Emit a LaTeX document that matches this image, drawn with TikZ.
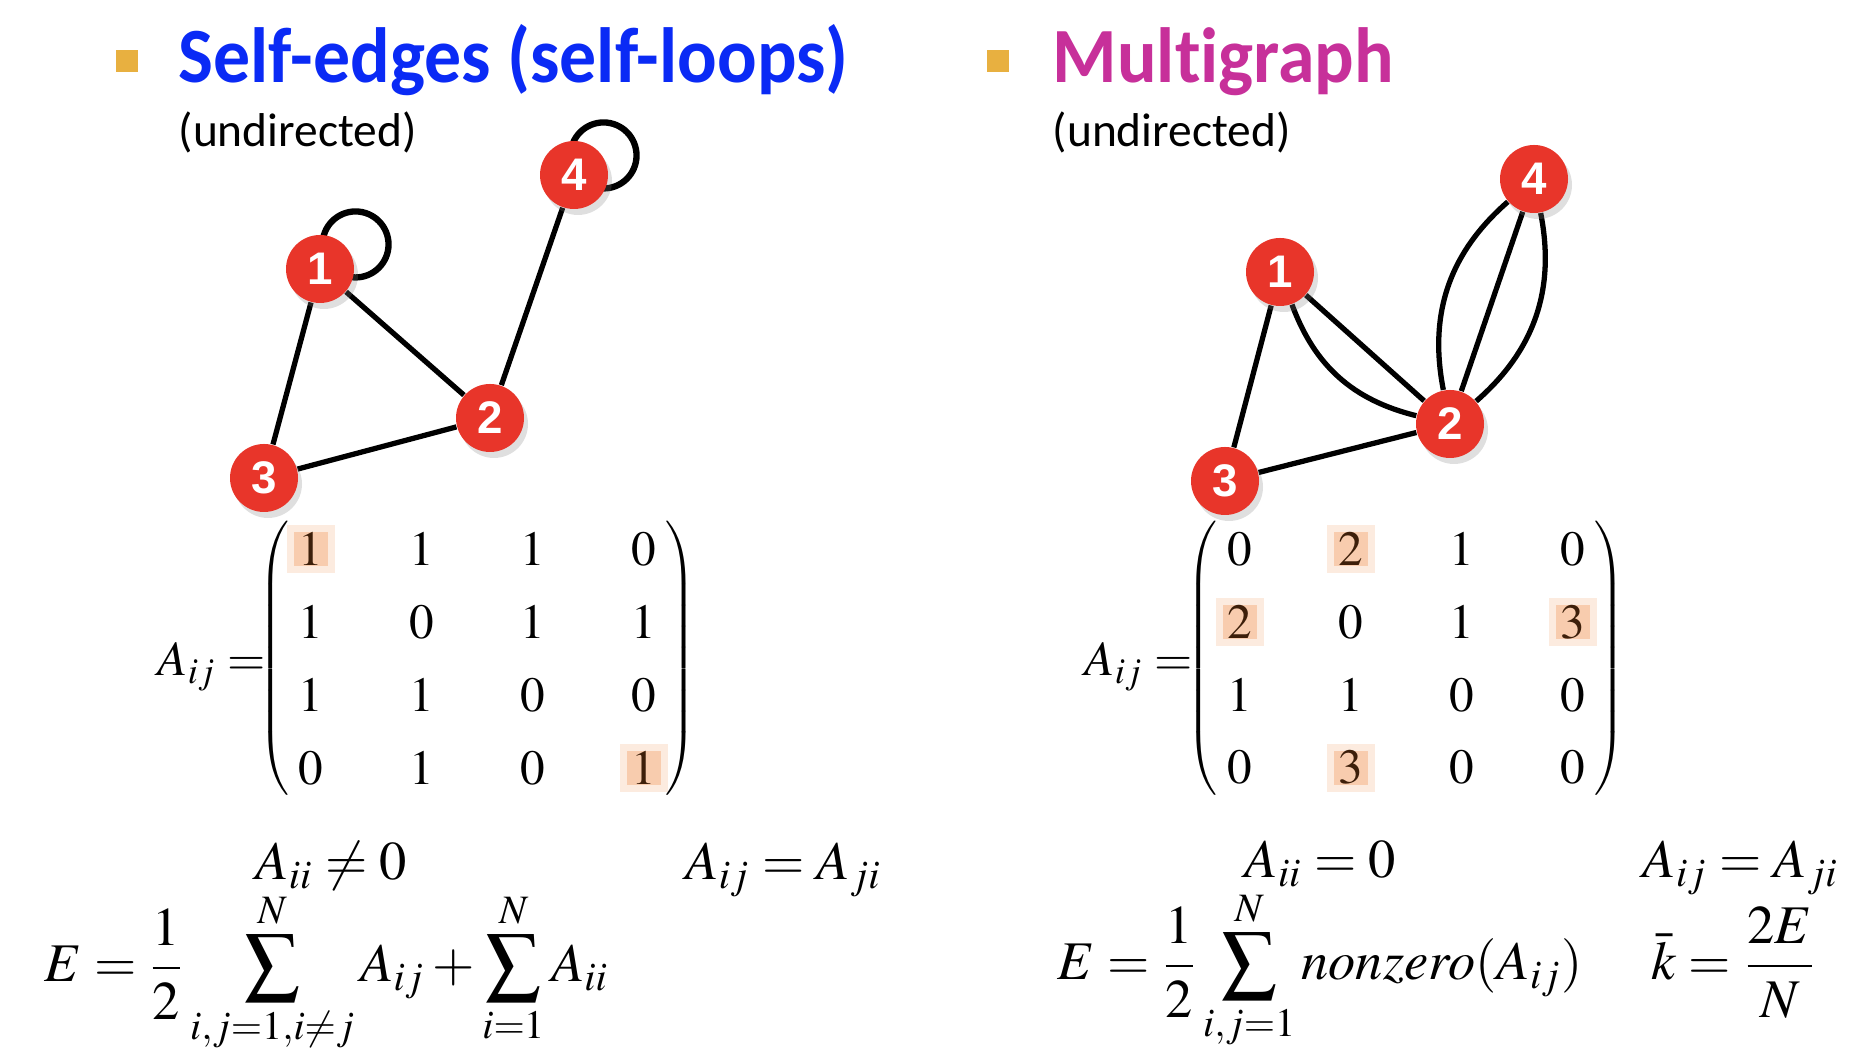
\documentclass[tikz,border=0pt]{standalone}
\usepackage{amsmath,amssymb}
\usepackage{mathptmx}
\usepackage[no-math]{fontspec}
\newfontfamily\calib[Ligatures=NoCommon]{Carlito}
\newfontfamily\helv{Liberation Sans}
\usepackage{xcolor}
\usetikzlibrary{positioning,matrix,backgrounds,shadows}

\definecolor{nodered}{HTML}{E8352A}
\definecolor{titleblue}{HTML}{0A2AF5}
\definecolor{titlemag}{HTML}{C7309A}
\definecolor{bulletor}{HTML}{E8B040}
\definecolor{hlfill}{HTML}{F8CCAE}
\definecolor{hltext}{HTML}{3D1F0A}

\begin{document}
\begin{tikzpicture}[x=0.1mm,y=0.1mm,
  vtx/.style={circle,fill=nodered,text=white,inner sep=0pt,minimum size=6.8mm,
    font=\helv\bfseries\fontsize{13}{13}\selectfont,
    drop shadow={opacity=0.25,shadow xshift=0.4mm,shadow yshift=-0.6mm}},
  link/.style={line width=1.5pt},
  selfloop/.style={line width=1.8pt},
  bullet/.style={fill=bulletor,minimum size=2.2mm,inner sep=0pt},
  title/.style={anchor=base west,inner sep=0pt,yscale=1.06,font=\calib\bfseries\fontsize{21}{25}\selectfont},
  sub/.style={anchor=base west,inner sep=0pt,font=\calib\fontsize{13.5}{16}\selectfont},
  adj/.style={matrix of math nodes,inner sep=0pt,column sep=7.7mm,row sep=1.7mm,
    nodes={inner sep=0pt,minimum width=3.4mm,minimum height=5.55mm,font=\fontsize{14}{16}\selectfont},
    left delimiter=(,right delimiter=)},
  hlnum/.style={text=hltext},
  hl/.style={fill=hlfill,draw=hlfill!40,line width=2pt,minimum size=4.1mm},
  eq/.style={anchor=base west,inner sep=0pt,font=\fontsize{15.5}{18}\selectfont},
  lhs/.style={anchor=base west,inner sep=0pt,font=\fontsize{14}{16}\selectfont},
]
\useasboundingbox (0,0) rectangle (1860,1062);

% headings
\node[bullet] (bulL) at (127,1001) {};
\node[title,text=titleblue] (titL) at (178,979) {Self-edges (self-loops)};
\node[sub] (subL) at (178,915) {(undirected)};
\node[bullet] (bulR) at (998,1001) {};
\node[title,text=titlemag] (titR) at (1052,979) {Multigraph};
\node[sub] (subR) at (1052,915) {(undirected)};

% self-loop graph
\node[vtx] (L1) at (320,793) {1};
\node[vtx] (L2) at (490,644) {2};
\node[vtx] (L3) at (264,584) {3};
\node[vtx] (L4) at (574,887) {4};

% multigraph
\node[vtx] (R1) at (1280,790) {1};
\node[vtx] (R2) at (1450,638) {2};
\node[vtx] (R3) at (1225,581) {3};
\node[vtx] (R4) at (1534,883) {4};

% adjacency matrices
\node[lhs] (AL) at (157,386) {$A_{ij}=$};
\matrix[adj] (mL) at (477.5,403.5) {
|[hlnum]| 1 & 1 & 1 & 0 \\
1 & 0 & 1 & 1 \\
1 & 1 & 0 & 0 \\
0 & 1 & 0 & |[hlnum]| 1 \\
};
\node[lhs] (AR) at (1084,386) {$A_{ij}=$};
\matrix[adj] (mR) at (1406,403.5) {
0 & |[hlnum]| 2 & 1 & 0 \\
|[hlnum]| 2 & 0 & 1 & |[hlnum]| 3 \\
1 & 1 & 0 & 0 \\
0 & |[hlnum]| 3 & 0 & 0 \\
};

\begin{scope}[on background layer]
\node[hl] at (mL-1-1) {};
\node[hl] at (mL-4-4) {};
\node[hl] at (mR-1-2) {};
\node[hl] at (mR-2-1) {};
\node[hl] at (mR-2-4) {};
\node[hl] at (mR-4-2) {};
\draw[link] (L1)--(L2) (L1)--(L3) (L3)--(L2) (L2)--(L4);
\draw[selfloop] ([shift={(1.1mm,0mm)}]L1.north east) circle[radius=33];
\draw[selfloop] ([shift={(0.5mm,-0.5mm)}]L4.north east) circle[radius=33];
\draw[link] (R1)--(R3) (R3)--(R2) (R1)--(R2) (R1) to[bend right=28] (R2)
  (R2)--(R4) (R2) to[bend left=30] (R4) (R2) to[bend right=30] (R4);
\end{scope}

% formulas
\node[eq] (diagL) at (255,182) {$A_{ii}\neq 0$};
\node[eq] (symL) at (685,182) {$A_{ij}=A_{ji}$};
\node[eq] (sumL) at (44,80) {$\displaystyle E=\frac{1}{2}\sum_{i,j=1,i\neq j}^{N}A_{ij}+\sum_{i=1}^{N}A_{ii}$};
\node[eq] (diagR) at (1244,184) {$A_{ii}=0$};
\node[eq] (symR) at (1642,184) {$A_{ij}=A_{ji}$};
\node[eq] (sumR) at (1057,82) {$\displaystyle E=\frac{1}{2}\sum_{i,j=1}^{N}nonzero(A_{ij})$};
\node[eq] (degR) at (1651,82) {$\displaystyle \bar{k}=\frac{2E}{N}$};
\end{tikzpicture}
\end{document}
